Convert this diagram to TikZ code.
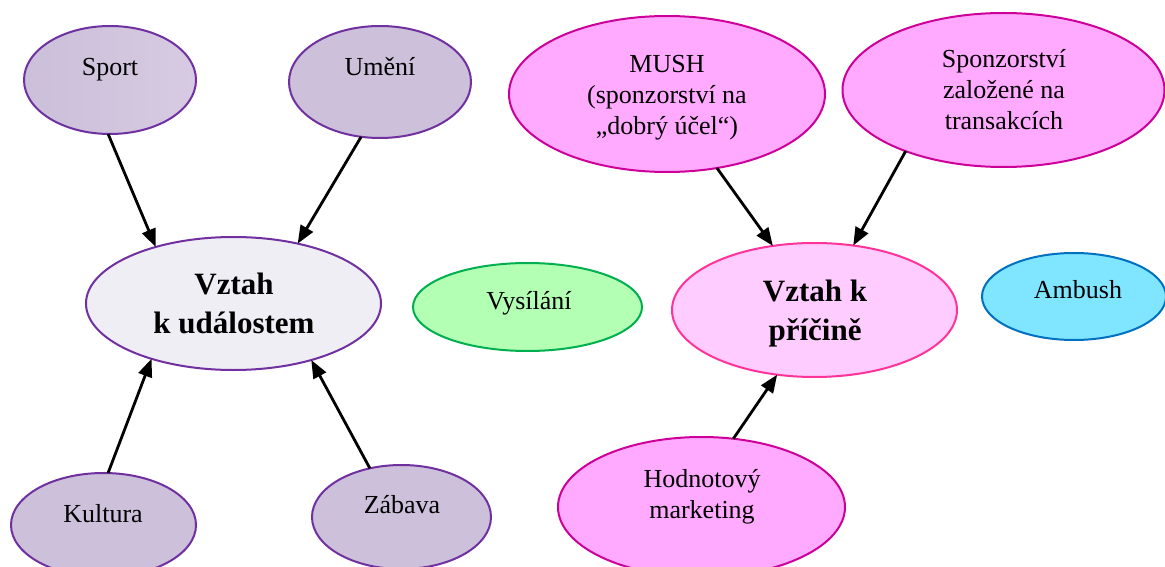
\documentclass[tikz,border=0pt]{standalone}
\usepackage{fontspec}
\setmainfont{Liberation Serif}
\usetikzlibrary{shapes.geometric,arrows.meta}

% palette
\definecolor{lavfill}{HTML}{CCC0DA}
\definecolor{lavleft}{HTML}{CBBFD9}
\definecolor{lavright}{HTML}{D7CBE3}
\definecolor{paleLav}{HTML}{F0EEF5}
\definecolor{purpleline}{HTML}{7030A0}
\definecolor{greenfill}{HTML}{B3FFB3}
\definecolor{greenline}{HTML}{00B050}
\definecolor{rosefill}{HTML}{FFCCFF}
\definecolor{roseline}{HTML}{FF3399}
\definecolor{pinkfill}{HTML}{FFAAFF}
\definecolor{pinkline}{HTML}{CC0099}
\definecolor{cyanfill}{HTML}{80E6FF}
\definecolor{blueline}{HTML}{0070C0}

\tikzset{
  bubble/.style={ellipse, line width=2pt, inner sep=0pt, outer sep=0pt},
  lav/.style={bubble, draw=purpleline, fill=lavfill},
  hub/.style={bubble, draw=purpleline, fill=paleLav},
  mint/.style={bubble, draw=greenline, fill=greenfill},
  rose/.style={bubble, draw=roseline, fill=rosefill},
  pink/.style={bubble, draw=pinkline, fill=pinkfill},
  sky/.style={bubble, draw=blueline, fill=cyanfill},
  % labels are anchored at the baseline of their last line
  lbl/.style={anchor=base, align=center, inner sep=0pt,
              font=\fontsize{26}{31}\selectfont},
  lblb/.style={anchor=base, align=center, inner sep=0pt,
               font=\fontsize{31}{39}\selectfont\bfseries},
  link/.style={line width=2.8pt, -{Triangle[length=18pt,width=14pt]}}
}

\begin{document}
\begin{tikzpicture}[x=1pt,y=-1pt]
\useasboundingbox (0,0) rectangle (1165,567);
\clip (0,0) rectangle (1165,567);
\fill[white] (0,0) rectangle (1165,567);

% left cluster: event relations
\node[lav, left color=lavleft, right color=lavright, minimum width=172pt, minimum height=108pt] (sport) at (110,80) {};
\node[lav, minimum width=182pt, minimum height=112pt] (umeni) at (380,82) {};
\node[hub, minimum width=295pt, minimum height=133pt] (vzu) at (233.5,303.5) {};
\node[lav, minimum width=185pt, minimum height=104pt] (kultura) at (103.5,525) {};
\node[lav, minimum width=179pt, minimum height=104pt] (zabava) at (401.5,517) {};

% middle
\node[mint, minimum width=229pt, minimum height=88pt] (vys) at (527.5,307) {};

% right cluster: cause relations
\node[pink, minimum width=316pt, minimum height=156pt] (mush) at (667,94) {};
\node[pink, minimum width=322pt, minimum height=154pt] (trans) at (1003.5,90) {};
\node[rose, minimum width=285pt, minimum height=134pt] (vzp) at (814.5,310) {};
\node[sky, minimum width=184pt, minimum height=87pt] (ambush) at (1074,296.5) {};
\node[pink, minimum width=287pt, minimum height=140pt] (hodn) at (701.5,507) {};

% labels
\node[lbl] (sport-t) at (110,76) {Sport};
\node[lbl] (umeni-t) at (380,76) {Umění};
\node[lblb] (vzu-t) at (234,333) {Vztah\\k událostem};
\node[lbl] (kultura-t) at (103,522) {Kultura};
\node[lbl] (zabava-t) at (402,513) {Zábava};
\node[lbl] (vys-t) at (529,309) {Vysílání};
\node[lbl] (mush-t) at (667,135) {MUSH\\(sponzorství na\\„dobrý účel“)};
\node[lbl] (trans-t) at (1004,130) {Sponzorství\\založené na\\transakcích};
\node[lblb] (vzp-t) at (815,340) {Vztah k\\příčině};
\node[lbl] (ambush-t) at (1078,298) {Ambush};
\node[lbl] (hodn-t) at (702,518) {Hodnotový\\marketing};

% connectors
\draw[link] (sport.-92) -- (vzu.144);
\draw[link] (umeni.-109) -- (vzu.43);
\draw[link] (kultura.85) -- (vzu.-146);
\draw[link] (zabava.123) -- (vzu.-36);
\draw[link] (mush.-56) -- (vzp.123);
\draw[link] (trans.-148) -- (vzp.59);
\draw[link] (hodn.65) -- (vzp.-120);
\end{tikzpicture}
\end{document}
